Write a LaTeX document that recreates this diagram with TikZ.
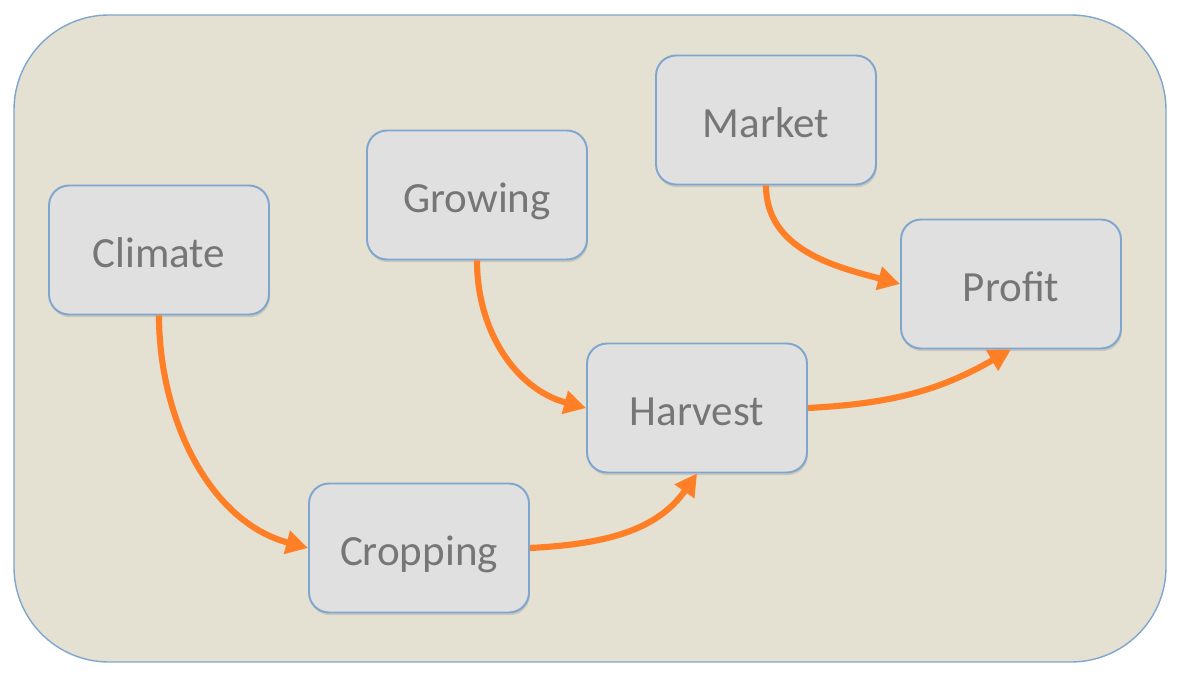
\documentclass[tikz,border=0pt]{standalone}
\usepackage{fontspec}
\setmainfont{Carlito}
\usetikzlibrary{arrows.meta,shadows}
\definecolor{panel}{HTML}{E4E0D2}
\definecolor{edge}{HTML}{7EA6CF}
\definecolor{boxfill}{HTML}{E0E0E0}
\definecolor{label}{HTML}{767676}
\definecolor{flow}{HTML}{FF7F27}
\begin{document}
\begin{tikzpicture}[x=0.02cm, y=0.02cm,
    stage/.style={draw=edge, line width=1.1pt, fill=boxfill, rounded corners=0.4cm,
      minimum width=4.4cm, minimum height=2.58cm, inner sep=0pt,
      text height=22pt, text depth=1.6pt,
      text=label, font=\fontsize{24.5}{29}\selectfont,
      drop shadow={opacity=0.25, shadow xshift=0.5pt, shadow yshift=-1.5pt}},
    link/.style={draw=flow, line width=3.5pt,
      -{Triangle[length=12.5pt, width=13pt]}}]
        \useasboundingbox (0, 0) rectangle (1180, 674);
        \draw [fill=panel, draw=edge, line width=0.8pt, rounded corners=1.9cm] (14, 12) rectangle (1166, 659);

        \node [stage] (climate)  at (159, 424) {Climate};
        \node [stage] (growing)  at (477, 479) {Growing};
        \node [stage] (market)   at (766, 554) {Market};
        \node [stage] (profit)   at (1011, 390) {Profit};
        \node [stage] (harvest)  at (697, 266) {Harvest};
        \node [stage] (cropping) at (419, 126) {Cropping};

        \draw [link] (climate.south) to [out=-90, in=165, looseness=0.95] (cropping.west);
        \draw [link] (cropping.east) to [out=3, in=-125] (harvest.south);
        \draw [link] (growing.south) to [out=-90, in=165] (harvest.west);
        \draw [link] (harvest.east) to [out=3, in=-150] (profit.south);
        \draw [link] (market.south) to [out=-90, in=165] (profit.west);
      \end{tikzpicture}
\end{document}
